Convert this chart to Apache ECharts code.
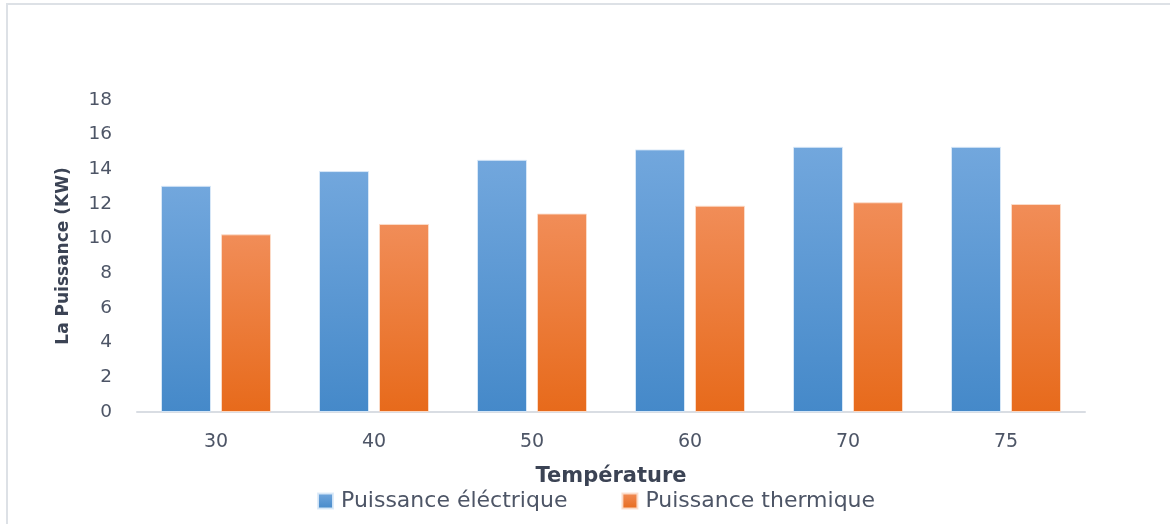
<!DOCTYPE html>
<html>
<head>
<meta charset="utf-8">
<script src="https://cdn.jsdelivr.net/npm/echarts@6/dist/echarts.min.js"></script>
<style>
  html, body { margin: 0; padding: 0; background: #fff; }
  #chart { width: 1170px; height: 524px; }
</style>
</head>
<body>
<div id="chart"></div>
<script>
// températures (catégories)
const categories = ['30', '40', '50', '60', '70', '75'];
// puissances (kW)
const electrique = [13.05, 13.9, 14.55, 15.15, 15.3, 15.3];
const thermique = [10.25, 10.85, 11.45, 11.9, 12.1, 12.0];
const yTicks = { min: 0, max: 18, interval: 2 };

const textColor = '#4d5566';
const font = '"DejaVu Sans", sans-serif';

const grad = (top, bottom) => ({
    type: 'linear', x: 0, y: 0, x2: 0, y2: 1,
    colorStops: [{ offset: 0, color: top }, { offset: 1, color: bottom }]
});

const chart = echarts.init(document.getElementById('chart'));
chart.setOption({
    animation: false,
    textStyle: { fontFamily: font },
    graphic: [{
        type: 'rect',
        shape: { x: 7, y: 4, width: 1200, height: 560 },
        style: { fill: 'none', stroke: '#dde1e6', lineWidth: 2 },
        silent: true
    }],
    grid: { left: 137, right: 85, top: 100, bottom: 112 },
    legend: {
        top: 485,
        left: 312,
        itemWidth: 15,
        itemHeight: 15,
        itemGap: 54,
        icon: 'rect',
        textStyle: { color: textColor, fontSize: 22, fontFamily: font, padding: [0, 0, 0, 3] }
    },
    xAxis: {
        type: 'category',
        data: categories,
        name: 'Température',
        nameLocation: 'middle',
        nameGap: 54,
        nameTextStyle: { color: '#3b4354', fontSize: 21, fontWeight: 'bold' },
        axisLine: { lineStyle: { color: '#d9dde3', width: 2 } },
        axisTick: { length: 7, lineStyle: { color: '#d9dde3', width: 2 } },
        axisLabel: { color: textColor, fontSize: 19, margin: 21 }
    },
    yAxis: {
        type: 'value',
        min: yTicks.min,
        max: yTicks.max,
        interval: yTicks.interval,
        name: 'La Puissance (KW)',
        nameLocation: 'middle',
        nameGap: 65,
        nameTextStyle: { color: '#3b4354', fontSize: 17, fontWeight: 'bold' },
        axisLine: { show: false },
        axisTick: { show: false },
        splitLine: { show: false },
        axisLabel: { color: textColor, fontSize: 18.5, margin: 25 }
    },
    series: [{
        name: 'Puissance éléctrique',
        type: 'bar',
        data: electrique,
        barWidth: 50,
        barGap: '20%',
        itemStyle: {
            color: grad('#72a7dd', '#4589c9'),
            borderColor: 'rgba(220,234,248,0.9)',
            borderWidth: 1
        }
    }, {
        name: 'Puissance thermique',
        type: 'bar',
        data: thermique,
        barWidth: 50,
        itemStyle: {
            color: grad('#f18d58', '#e76a1b'),
            borderColor: 'rgba(252,222,204,0.9)',
            borderWidth: 1
        }
    }]
});
</script>
</body>
</html>
